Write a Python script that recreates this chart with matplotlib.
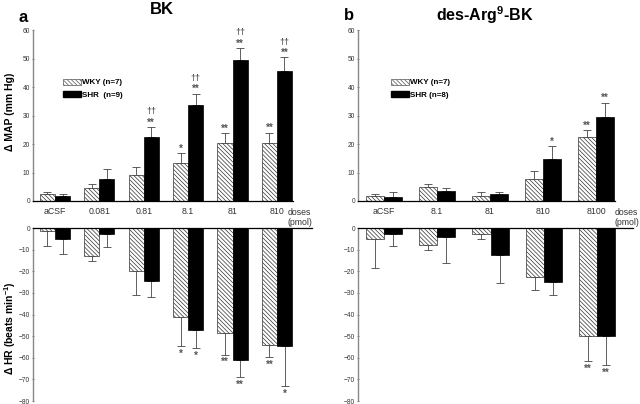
import numpy as np
import matplotlib
matplotlib.use('Agg')
import matplotlib.pyplot as plt
from matplotlib.patches import Patch

plt.rcParams['font.family'] = ['Liberation Sans', 'DejaVu Sans']
plt.rcParams['mathtext.fontset'] = 'custom'
plt.rcParams['mathtext.rm'] = 'Liberation Sans'
plt.rcParams['mathtext.bf'] = 'Liberation Sans:bold'
plt.rcParams['hatch.color'] = '#666666'
plt.rcParams['hatch.linewidth'] = 0.5

# panel a: BK
a_doses = ['aCSF', '0.081', '0.81', '8.1', '81', '810']
a_map_wky = [2.3, 4.7, 9.0, 13.5, 20.2, 20.2]
a_map_wky_err = [0.9, 1.4, 3.0, 3.3, 3.7, 3.8]
a_map_shr = [1.9, 7.6, 22.6, 33.7, 49.6, 45.5]
a_map_shr_err = [0.7, 3.8, 3.3, 4.0, 4.0, 4.9]
a_hr_wky = [-1.2, -12.8, -19.8, -41.3, -48.5, -54.0]
a_hr_wky_err = [7.3, 2.4, 11.3, 13.2, 10.0, 5.6]
a_hr_shr = [-5.1, -2.6, -24.3, -47.2, -61.1, -54.6]
a_hr_shr_err = [7.0, 6.2, 7.4, 8.5, 7.8, 18.6]
a_map_wky_sig = ['', '', '', '*', '**', '**']
a_map_shr_sig = ['', '', '**', '**', '**', '**']
a_map_shr_dag = ['', '', '\u2020\u2020', '\u2020\u2020', '\u2020\u2020', '\u2020\u2020']
a_hr_wky_sig = ['', '', '', '*', '**', '**']
a_hr_shr_sig = ['', '', '', '*', '**', '*']

# panel b: des-Arg9-BK
b_doses = ['aCSF', '8.1', '81', '810', '8100']
b_map_wky = [1.6, 4.9, 1.9, 7.8, 22.5]
b_map_wky_err = [0.8, 1.0, 1.1, 2.9, 2.3]
b_map_shr = [1.4, 3.5, 2.3, 14.9, 29.4]
b_map_shr_err = [1.6, 1.2, 1.0, 4.4, 5.1]
b_hr_wky = [-5.1, -7.7, -2.6, -22.8, -49.8]
b_hr_wky_err = [13.2, 2.5, 2.5, 5.8, 11.7]
b_hr_shr = [-2.5, -3.9, -12.5, -25.1, -49.8]
b_hr_shr_err = [6.0, 12.4, 13.0, 5.9, 13.7]
b_map_wky_sig = ['', '', '', '', '**']
b_map_shr_sig = ['', '', '', '*', '**']
b_hr_wky_sig = ['', '', '', '', '**']
b_hr_shr_sig = ['', '', '', '', '**']

w = 0.34
gray = '#555555'
hatch = '\\' * 8


def style_axis(ax, top):
    ax.spines['right'].set_visible(False)
    ax.spines['left'].set_color('#888888')
    ax.spines['left'].set_linewidth(1.0)
    if top:
        ax.spines['top'].set_visible(False)
        ax.spines['bottom'].set_linewidth(0.9)
        ax.set_ylim(0, 60)
        ax.set_yticks(np.arange(0, 61, 10))
    else:
        ax.spines['bottom'].set_visible(False)
        ax.spines['top'].set_linewidth(0.9)
        ax.set_ylim(-80, 0)
        ax.set_yticks(np.arange(-80, 1, 10))
    ax.tick_params(axis='y', labelsize=4.8, length=2, width=0.6, color='#666666',
                   labelcolor='#333333', pad=1, direction='inout')
    ax.tick_params(axis='x', length=0)


def draw_pair(ax, wky, wky_err, shr, shr_err, up):
    x = np.arange(len(wky))
    ax.bar(x - w / 2, wky, w, facecolor='white', edgecolor='#333333', hatch=hatch,
           linewidth=0.5, zorder=2)
    ax.bar(x + w / 2, shr, w, facecolor='black', edgecolor='black', linewidth=0.5, zorder=2)
    z = np.zeros(len(wky))
    if up:
        e1, e2 = [z, wky_err], [z, shr_err]
    else:
        e1, e2 = [wky_err, z], [shr_err, z]
    ax.errorbar(x - w / 2, wky, yerr=e1, fmt='none', ecolor='#444444', elinewidth=0.6,
                capsize=3, capthick=0.6, zorder=1)
    ax.errorbar(x + w / 2, shr, yerr=e2, fmt='none', ecolor='#444444', elinewidth=0.6,
                capsize=3, capthick=0.6, zorder=1)


def add_marks(ax, xs, vals, errs, marks, off, size=7):
    for xi, v, e, m in zip(xs, vals, errs, marks):
        if m:
            y = v + e + off if off > 0 else v - e + off
            ax.text(xi, y, m, ha='center', va='center', fontsize=size, color=gray,
                    fontweight='bold')


def legend(ax, labels, anchor):
    ax.legend(handles=[Patch(facecolor='white', edgecolor='#555555', hatch=hatch, linewidth=0.5),
                       Patch(facecolor='black', edgecolor='black')],
              labels=labels, loc='upper left', bbox_to_anchor=anchor,
              frameon=False, prop={'size': 5.8, 'weight': 'bold'}, handlelength=2.2,
              handleheight=0.8, handletextpad=0.1, labelspacing=0.55, borderpad=0)


fig = plt.figure(figsize=(6.4, 4.04), dpi=100)

# ---- panel a
ax1 = fig.add_axes([0.0516, 0.5025, 0.406, 0.423])
ax2 = fig.add_axes([0.0516, 0.0074, 0.436, 0.428])
xa = np.arange(len(a_doses))
draw_pair(ax1, a_map_wky, a_map_wky_err, a_map_shr, a_map_shr_err, True)
draw_pair(ax2, a_hr_wky, a_hr_wky_err, a_hr_shr, a_hr_shr_err, False)
style_axis(ax1, True)
style_axis(ax2, False)
ax1.set_xlim(-0.495, 5.36)
ax2.set_xlim(-0.495, 5.79)
ax1.set_xticks(xa)
ax1.set_xticklabels(a_doses, fontsize=6.3, color='#333333')
ax1.tick_params(axis='x', pad=4)
ax2.set_xticks([])
add_marks(ax1, xa - w / 2, a_map_wky, a_map_wky_err, a_map_wky_sig, 1.6)
add_marks(ax1, xa + w / 2, a_map_shr, a_map_shr_err, a_map_shr_sig, 1.6)
add_marks(ax1, xa + w / 2, a_map_shr, a_map_shr_err, a_map_shr_dag, 5.4, size=6.5)
add_marks(ax2, xa - w / 2, a_hr_wky, a_hr_wky_err, a_hr_wky_sig, -3.6)
add_marks(ax2, xa + w / 2, a_hr_shr, a_hr_shr_err, a_hr_shr_sig, -3.6)
ax1.text(0.98, -0.04, 'doses\n(pmol)', transform=ax1.transAxes, ha='left', va='top',
         fontsize=6.3, color='#333333', linespacing=1.1)
legend(ax1, ['WKY (n=7)', 'SHR  (n=9)'], (0.1, 0.74))

# ---- panel b
ax3 = fig.add_axes([0.559, 0.5025, 0.4016, 0.423])
ax4 = fig.add_axes([0.559, 0.0074, 0.43, 0.428])
xb = np.arange(len(b_doses))
draw_pair(ax3, b_map_wky, b_map_wky_err, b_map_shr, b_map_shr_err, True)
draw_pair(ax4, b_hr_wky, b_hr_wky_err, b_hr_shr, b_hr_shr_err, False)
style_axis(ax3, True)
style_axis(ax4, False)
ax3.set_xlim(-0.49, 4.35)
ax4.set_xlim(-0.49, 4.67)
ax3.set_xticks(xb)
ax3.set_xticklabels(b_doses, fontsize=6.3, color='#333333')
ax3.tick_params(axis='x', pad=4)
ax4.set_xticks([])
add_marks(ax3, xb - w / 2, b_map_wky, b_map_wky_err, b_map_wky_sig, 1.6)
add_marks(ax3, xb + w / 2, b_map_shr, b_map_shr_err, b_map_shr_sig, 1.6)
add_marks(ax4, xb - w / 2, b_hr_wky, b_hr_wky_err, b_hr_wky_sig, -3.6)
add_marks(ax4, xb + w / 2, b_hr_shr, b_hr_shr_err, b_hr_shr_sig, -3.6)
ax3.text(1.0, -0.04, 'doses\n(pmol)', transform=ax3.transAxes, ha='left', va='top',
         fontsize=6.3, color='#333333', linespacing=1.1)
legend(ax3, ['WKY (n=7)', 'SHR (n=8)'], (0.115, 0.74))

# titles and labels
fig.text(162 / 640, 1 - 9 / 404, 'BK', ha='center', va='center', fontsize=12, fontweight='bold')
fig.text(485 / 640, 1 - 15 / 404, r'des-Arg$^{\mathbf{9}}$-BK', ha='center', va='center',
         fontsize=11.5, fontweight='bold')
fig.text(23 / 640, 1 - 17 / 404, 'a', ha='center', va='center', fontsize=12, fontweight='bold')
fig.text(349 / 640, 1 - 16 / 404, 'b', ha='center', va='center', fontsize=12, fontweight='bold')
fig.text(10 / 640, 1 - 112 / 404, '\u0394 MAP (mm Hg)', rotation=90, ha='center', va='center',
         fontsize=7.5, fontweight='bold')
fig.text(10 / 640, 1 - 328 / 404, '\u0394 HR (beats min$^{\\mathbf{-1}}$)', rotation=90,
         ha='center', va='center', fontsize=7.5, fontweight='bold')

fig.savefig('out.png', dpi=100)
